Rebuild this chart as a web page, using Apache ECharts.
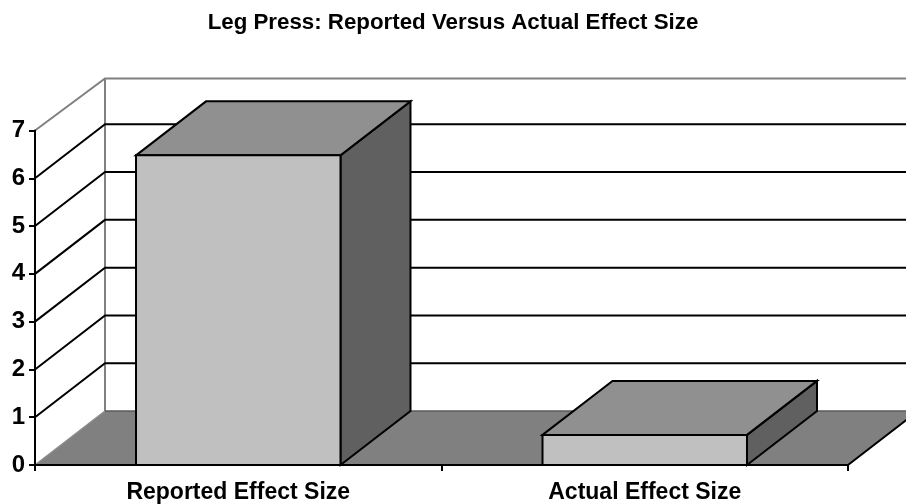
<!DOCTYPE html>
<html>
<head>
<meta charset="utf-8">
<style>html,body{margin:0;padding:0;background:#fff}#chart{width:906px;height:504px}</style>
<script src="https://cdn.jsdelivr.net/npm/echarts@6/dist/echarts.min.js"></script>
</head>
<body>
<div id="chart"></div>
<script>
const categories = ['Reported Effect Size', 'Actual Effect Size'];
const effectSizes = [6.48, 0.63];
const gridLineValues = [1, 2, 3, 4, 5, 6];

const FONT = '"Liberation Sans", Arial, sans-serif';
const DEPTH_X = 70;
const DEPTH_Y = 54;
const WALL_TOP_DEPTH_Y = 52;
const BAR_WIDTH_RATIO = 0.503;
const EDGE_WIDTH = 2;

function poly(points, fill, stroke, lineWidth) {
    return {
        type: 'polygon',
        shape: { points: points },
        style: { fill: fill, stroke: stroke, lineWidth: lineWidth, lineJoin: 'miter' }
    };
}

function line(points, stroke, lineWidth) {
    return {
        type: 'polyline',
        shape: { points: points },
        style: { fill: null, stroke: stroke, lineWidth: lineWidth }
    };
}

function renderWalls(params, api) {
    const cs = params.coordSys;
    const left = cs.x;
    const right = cs.x + cs.width;
    const y0 = api.coord([0, 0])[1];
    const y7 = api.coord([0, 7])[1];
    const topBack = y7 - WALL_TOP_DEPTH_Y;
    const floorBack = y0 - DEPTH_Y;
    return {
        type: 'group',
        children: [
            line([[left, y7], [left + DEPTH_X, topBack], [right + DEPTH_X, topBack]], '#808080', 2),
            line([[left + DEPTH_X, topBack], [left + DEPTH_X, floorBack]], '#808080', 2),
            poly([[left, y0], [left + DEPTH_X, floorBack], [right + DEPTH_X, floorBack], [right, y0]], '#808080', null, 0),
            line([[left, y0], [left + DEPTH_X, floorBack]], '#8c8c8c', 1.5),
            line([[left + DEPTH_X, floorBack], [right + DEPTH_X, floorBack]], '#5a5a5a', 1.5),
            line([[right, y0], [right + DEPTH_X, floorBack]], '#000', EDGE_WIDTH)
        ]
    };
}

function renderGridLine(params, api) {
    const cs = params.coordSys;
    const y = api.coord([0, api.value(0)])[1];
    return line([
        [cs.x, y],
        [cs.x + DEPTH_X, y - DEPTH_Y],
        [cs.x + cs.width + DEPTH_X, y - DEPTH_Y]
    ], '#000', EDGE_WIDTH);
}

function renderBar(params, api) {
    const center = api.coord([api.value(0), 0]);
    const top = api.coord([api.value(0), api.value(1)])[1];
    const half = api.size([1, 0])[0] * BAR_WIDTH_RATIO / 2;
    const x0 = center[0] - half;
    const x1 = center[0] + half;
    const y0 = center[1];
    return {
        type: 'group',
        children: [
            poly([[x1, y0], [x1 + DEPTH_X, y0 - DEPTH_Y], [x1 + DEPTH_X, top - DEPTH_Y], [x1, top]], '#606060', '#000', EDGE_WIDTH),
            poly([[x0, top], [x0 + DEPTH_X, top - DEPTH_Y], [x1 + DEPTH_X, top - DEPTH_Y], [x1, top]], '#909090', '#000', EDGE_WIDTH),
            poly([[x0, y0], [x0, top], [x1, top], [x1, y0]], '#c0c0c0', '#000', EDGE_WIDTH)
        ]
    };
}

const chart = echarts.init(document.getElementById('chart'));
chart.setOption({
    animation: false,
    backgroundColor: '#fff',
    title: {
        text: 'Leg Press: Reported Versus Actual Effect Size',
        left: 'center',
        top: 11.5,
        padding: 0,
        textStyle: { fontFamily: FONT, fontWeight: 'bold', fontSize: 22.3, color: '#000' }
    },
    grid: { left: 35, top: 130.5, width: 813, height: 334.5 },
    xAxis: {
        type: 'category',
        data: categories,
        z: 5,
        axisLine: { lineStyle: { color: '#000', width: 2 } },
        axisTick: { show: true, length: 6, alignWithLabel: false, lineStyle: { color: '#000', width: 2 } },
        axisLabel: { fontFamily: FONT, fontWeight: 'bold', fontSize: 23, color: '#000', margin: 16 }
    },
    yAxis: {
        type: 'value',
        min: 0,
        max: 7,
        interval: 1,
        z: 5,
        axisLine: { show: true, lineStyle: { color: '#000', width: 2 } },
        axisTick: { show: true, length: 6, lineStyle: { color: '#000', width: 2 } },
        axisLabel: { fontFamily: FONT, fontWeight: 'bold', fontSize: 24, color: '#000', margin: 10, padding: [0, 0, 3, 0] },
        splitLine: { show: false }
    },
    series: [
        { type: 'custom', z: 1, silent: true, renderItem: renderWalls, data: [[0]], encode: { x: 0 }, clip: false },
        { type: 'custom', z: 2, silent: true, renderItem: renderGridLine, data: gridLineValues.map(v => [v]), encode: { y: 0 }, clip: false },
        {
            type: 'custom',
            z: 3,
            renderItem: renderBar,
            data: effectSizes.map((v, i) => [i, v]),
            encode: { x: 0, y: 1 },
            clip: false
        }
    ]
});
</script>
</body>
</html>
